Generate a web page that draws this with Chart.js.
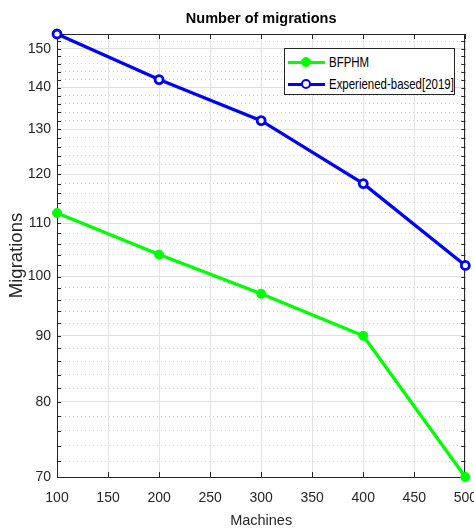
<!DOCTYPE html>
<html>
<head>
<meta charset="utf-8">
<script src="https://cdn.jsdelivr.net/npm/chart.js@4.4.1/dist/chart.umd.min.js"></script>
<style>
html, body { margin: 0; padding: 0; background: #fff; overflow: hidden; width: 474px; height: 528px; }
#wrap { position: absolute; left: 0; top: 0; width: 490px; height: 528px; }
#legend { position: absolute; left: 284px; top: 48px; width: 169px; height: 45px; border: 1px solid #262626; background: #fff;
  font-family: 'Liberation Sans', Arial, sans-serif; font-size: 14.5px; color: #000; }
.row { position: absolute; left: 0; height: 20px; display: flex; align-items: center; white-space: nowrap; }
.row span { display: inline-block; transform: scaleX(0.79); transform-origin: left center; }
.sample { position: relative; width: 37px; height: 20px; margin-left: 3px; margin-right: 4px; }
.sample .ln { position: absolute; left: 0; right: 0; top: 8.5px; height: 3px; }
.sample .mk { position: absolute; left: 13px; top: 5px; width: 10px; height: 10px; border-radius: 50%; box-sizing: border-box; }
</style>
</head>
<body>
<div id="wrap"><canvas id="chart"></canvas></div>
<div id="legend"></div>
<script>
// Number of migrations vs machines (log y axis)
const machines = [100, 200, 300, 400, 500];
const bfphm = [112, 104, 97, 90, 70];
const experienced = [154, 142, 132, 118, 102];
const seriesNames = ['BFPHM', 'Experiened-based[2019]'];
const yLabelTicks = [70, 80, 90, 100, 110, 120, 130, 140, 150];

const FONT = "'Liberation Sans', Arial, sans-serif";
const INK = '#262626';

function pts(ys) { return machines.map((x, i) => ({ x, y: ys[i] })); }

// matlab-style box + inward ticks
const frame = {
    id: 'frame',
    beforeDatasetsDraw(chart) {
        const { ctx, chartArea: a, scales: { x, y } } = chart;
        ctx.save();
        ctx.strokeStyle = INK;
        ctx.lineWidth = 1;
        ctx.beginPath();
        x.ticks.forEach((t) => {
            const px = Math.round(x.getPixelForValue(t.value)) + 0.5;
            ctx.moveTo(px, a.bottom); ctx.lineTo(px, a.bottom - 5);
            ctx.moveTo(px, a.top); ctx.lineTo(px, a.top + 5);
        });
        y.ticks.forEach((t) => {
            const py = Math.round(y.getPixelForValue(t.value)) + 0.5;
            ctx.moveTo(a.left, py); ctx.lineTo(a.left + 4, py);
            ctx.moveTo(a.right, py); ctx.lineTo(a.right - 4, py);
        });
        ctx.stroke();
        ctx.strokeRect(Math.round(a.left) + 0.5, Math.round(a.top) + 0.5,
            Math.round(a.right - a.left) - 1, Math.round(a.bottom - a.top));
        ctx.restore();
    }
};

new Chart(document.getElementById('chart').getContext('2d'), {
    type: 'line',
    data: {
        datasets: [{
            label: seriesNames[0],
            data: pts(bfphm),
            borderColor: '#00ff00',
            backgroundColor: '#00ff00',
            borderWidth: 3.3,
            pointRadius: 4.5,
            pointBorderWidth: 1,
            pointBackgroundColor: '#00ff00',
            clip: false,
        }, {
            label: seriesNames[1],
            data: pts(experienced),
            borderColor: '#0000ff',
            backgroundColor: '#0000ff',
            borderWidth: 3.3,
            pointRadius: 4,
            pointBorderWidth: 2.8,
            pointBackgroundColor: '#ffffff',
            clip: false,
        }]
    },
    options: {
        responsive: true,
        maintainAspectRatio: false,
        animation: false,
        layout: { padding: { left: 0, right: 24, top: 0, bottom: 0 } },
        plugins: {
            legend: { display: false },
            tooltip: { enabled: false },
            title: {
                display: true,
                fullSize: false,
                text: 'Number of migrations',
                color: '#000',
                font: { family: FONT, size: 14.5, weight: 'bold', lineHeight: 1.2 },
                padding: { top: 10, bottom: 6.6 }
            }
        },
        scales: {
            x: {
                type: 'linear',
                min: 100,
                max: 500,
                afterFit: (s) => { s.height = 51; },
                ticks: { stepSize: 50, color: INK, padding: 13, font: { family: FONT, size: 14 } },
                grid: { color: '#e4e4e4', drawTicks: false },
                border: { display: false },
                title: {
                    display: true, text: 'Machines', color: INK,
                    font: { family: FONT, size: 14.5, lineHeight: 1 }, padding: { top: 0, bottom: 0 }
                }
            },
            y: {
                type: 'logarithmic',
                min: 70,
                max: 154,
                afterFit: (s) => { s.width = 57; },
                afterBuildTicks: (s) => {
                    const t = [];
                    for (let v = 70; v <= 154; v += 2) t.push({ value: v });
                    s.ticks = t;
                },
                ticks: {
                    autoSkip: false, color: INK, padding: 6, font: { family: FONT, size: 14 },
                    callback: (v) => yLabelTicks.includes(v) ? String(v) : ''
                },
                grid: {
                    drawTicks: false,
                    color: (c) => (c.tick && yLabelTicks.includes(c.tick.value)) ? '#e0e0e0' : '#d4d4d4'
                },
                border: {
                    display: false,
                    dash: (c) => (c.tick && !yLabelTicks.includes(c.tick.value)) ? [1, 3] : []
                },
                title: {
                    display: true, text: 'Migrations', color: INK,
                    font: { family: FONT, size: 18.5, lineHeight: 1 }, padding: { top: 8, bottom: 0 }
                }
            }
        }
    },
    plugins: [frame]
});

// legend box (matlab style, inside the axes)
const colors = ['#00ff00', '#0000ff'];
const fills = ['#00ff00', '#ffffff'];
document.getElementById('legend').innerHTML = seriesNames.map((name, i) => `
    <div class="row" style="top:${3 + i * 22}px">
        <div class="sample"><div class="ln" style="background:${colors[i]}"></div>
        <div class="mk" style="background:${fills[i]};border:${i ? 2.5 : 1}px solid ${colors[i]}"></div></div>
        <span>${name}</span>
    </div>`).join('');
</script>
</body>
</html>
